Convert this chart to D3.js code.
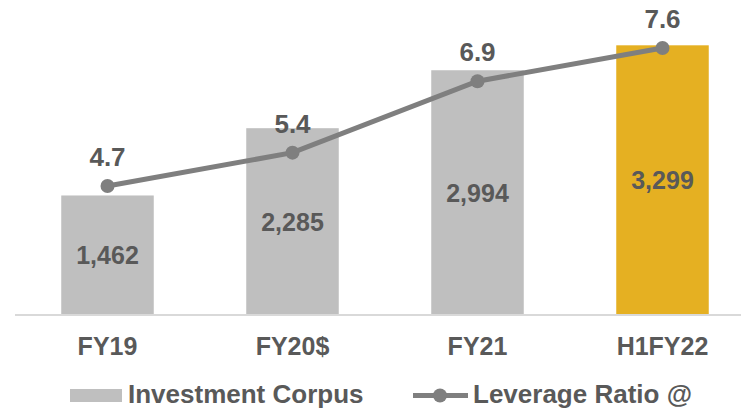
<!DOCTYPE html>
<html>
<head>
<meta charset="utf-8">
<script src="https://cdn.jsdelivr.net/npm/d3@7"></script>
<style>
  html, body { margin: 0; padding: 0; background: #fff; }
  svg { display: block; font-family: Arial, "Liberation Sans", sans-serif; font-weight: bold; }
</style>
</head>
<body>
<svg id="chart" width="741" height="409"></svg>
<script>
// Chart data
const categories = ["FY19", "FY20$", "FY21", "H1FY22"];
const investmentCorpus = [1462, 2285, 2994, 3299];
const leverageRatio = [4.7, 5.4, 6.9, 7.6];
const corpusLabels = ["1,462", "2,285", "2,994", "3,299"];
const ratioLabels = ["4.7", "5.4", "6.9", "7.6"];
const legendNames = ["Investment Corpus", "Leverage Ratio @"];

const textColor = "#595959";
const barGrey = "#bfbfbf";
const barGold = "#e5b022";
const lineColor = "#7f7f7f";

const svg = d3.select("#chart");

const x = d3.scaleBand().domain(categories).range([15, 755])
  .paddingInner(0.5).paddingOuter(0.25);
const yBar = d3.scaleLinear().domain([0, 4000]).range([315, -12]);
const yLine = d3.scaleLinear().domain([4, 8]).range([219.3, 28.9]);

// Bars
svg.append("g").selectAll("rect")
  .data(categories)
  .join("rect")
  .attr("x", d => x(d))
  .attr("width", x.bandwidth())
  .attr("y", (d, i) => yBar(investmentCorpus[i]))
  .attr("height", (d, i) => yBar(0) - yBar(investmentCorpus[i]))
  .attr("fill", (d, i) => i === categories.length - 1 ? barGold : barGrey);

// Category axis baseline
svg.append("line")
  .attr("x1", 15).attr("x2", 741)
  .attr("y1", yBar(0)).attr("y2", yBar(0))
  .attr("stroke", "#d9d9d9").attr("stroke-width", 2);

// Value labels inside bars
svg.append("g").selectAll("text")
  .data(categories)
  .join("text")
  .attr("x", d => x(d) + x.bandwidth() / 2)
  .attr("y", (d, i) => (yBar(investmentCorpus[i]) + yBar(0)) / 2 + 9)
  .attr("text-anchor", "middle")
  .attr("font-size", 25)
  .attr("fill", textColor)
  .text((d, i) => corpusLabels[i]);

// Leverage line
const line = d3.line()
  .x((d, i) => x(categories[i]) + x.bandwidth() / 2)
  .y(d => yLine(d));

svg.append("path")
  .datum(leverageRatio)
  .attr("d", line)
  .attr("fill", "none")
  .attr("stroke", lineColor)
  .attr("stroke-width", 5);

svg.append("g").selectAll("circle")
  .data(leverageRatio)
  .join("circle")
  .attr("cx", (d, i) => x(categories[i]) + x.bandwidth() / 2)
  .attr("cy", d => yLine(d))
  .attr("r", 7)
  .attr("fill", lineColor);

svg.append("g").selectAll("text")
  .data(leverageRatio)
  .join("text")
  .attr("x", (d, i) => x(categories[i]) + x.bandwidth() / 2)
  .attr("y", d => yLine(d) - 20)
  .attr("text-anchor", "middle")
  .attr("font-size", 26)
  .attr("fill", textColor)
  .text((d, i) => ratioLabels[i]);

// Category labels
svg.append("g").selectAll("text")
  .data(categories)
  .join("text")
  .attr("x", d => x(d) + x.bandwidth() / 2)
  .attr("y", 355)
  .attr("text-anchor", "middle")
  .attr("font-size", 25)
  .attr("fill", textColor)
  .text(d => d);

// Legend
const legend = svg.append("g");
legend.append("rect")
  .attr("x", 70).attr("y", 389).attr("width", 52).attr("height", 13)
  .attr("fill", barGrey);
legend.append("text")
  .attr("x", 128).attr("y", 403)
  .attr("font-size", 26).attr("fill", textColor)
  .text(legendNames[0]);
legend.append("line")
  .attr("x1", 413).attr("x2", 468).attr("y1", 395.5).attr("y2", 395.5)
  .attr("stroke", lineColor).attr("stroke-width", 5);
legend.append("circle")
  .attr("cx", 440).attr("cy", 395.5).attr("r", 7)
  .attr("fill", lineColor);
legend.append("text")
  .attr("x", 473).attr("y", 403)
  .attr("font-size", 26).attr("fill", textColor)
  .text(legendNames[1]);
</script>
</body>
</html>
